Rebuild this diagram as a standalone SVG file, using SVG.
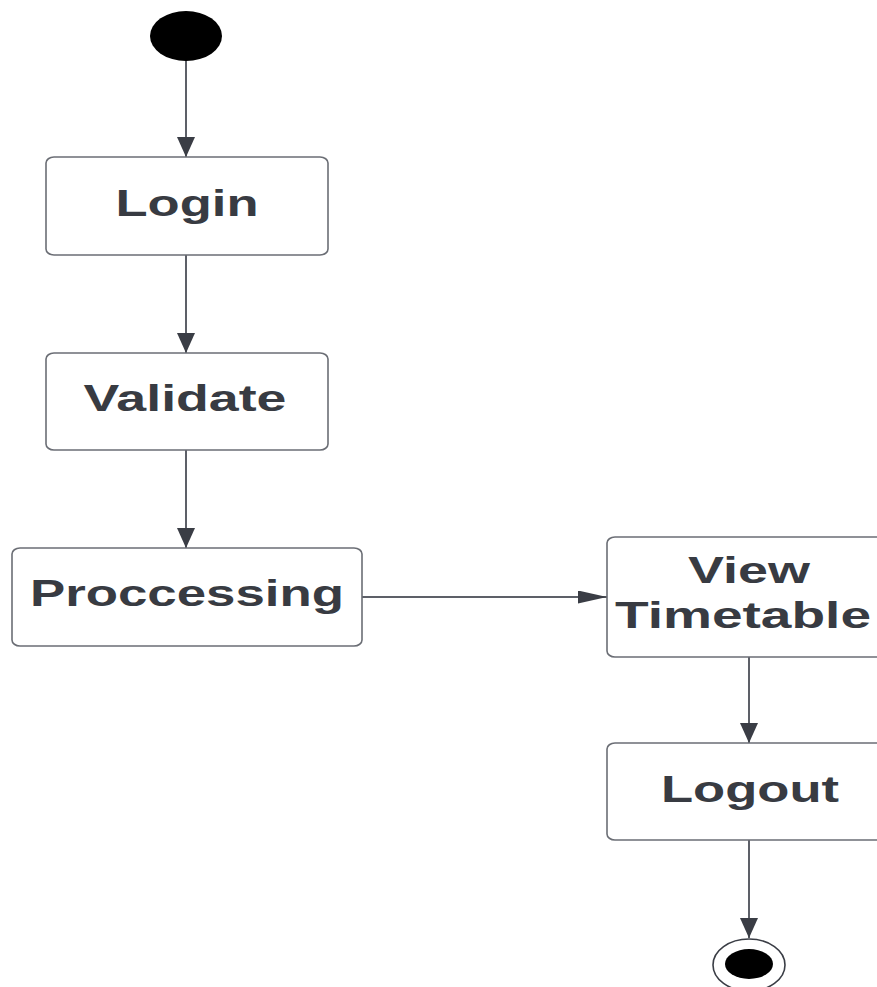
<svg xmlns="http://www.w3.org/2000/svg" width="877" height="987" viewBox="0 0 877 987">
<style>
.box{fill:#ffffff;stroke:#6b6e75;stroke-width:1.6}
.lbl{font-family:"Liberation Sans",Arial,sans-serif;font-weight:bold;font-size:37px;fill:#383b42;text-anchor:middle}
.edge{stroke:#5d6068;stroke-width:2;fill:none}
</style>
<defs>
<marker id="av" markerUnits="userSpaceOnUse" markerWidth="20" markerHeight="18" refX="20" refY="9" orient="auto">
<path d="M0,0 L20,9 L0,18 Z" fill="#3a3d45"/>
</marker>
<marker id="ah" markerUnits="userSpaceOnUse" markerWidth="29" markerHeight="13" refX="29" refY="6.5" orient="auto">
<path d="M0,0 L29,6.5 L0,13 Z" fill="#3a3d45"/>
</marker>
</defs>
<rect width="877" height="987" fill="#ffffff"/>
<g id="connectors">
<line class="edge" x1="186" y1="60" x2="186" y2="157" marker-end="url(#av)"/>
<line class="edge" x1="186" y1="255" x2="186" y2="353" marker-end="url(#av)"/>
<line class="edge" x1="186" y1="450" x2="186" y2="548" marker-end="url(#av)"/>
<line class="edge" x1="362" y1="597" x2="607" y2="597" marker-end="url(#ah)"/>
<line class="edge" x1="749" y1="657" x2="749" y2="743" marker-end="url(#av)"/>
<line class="edge" x1="749" y1="840" x2="749" y2="938" marker-end="url(#av)"/>
</g>
<g id="start">
<ellipse cx="186" cy="36" rx="36" ry="25" fill="#000000"/>
</g>
<g id="login">
<rect class="box" x="46" y="157" width="282" height="98" rx="8" ry="6"/>
<text class="lbl" x="187" y="216" textLength="143" lengthAdjust="spacingAndGlyphs">Login</text>
</g>
<g id="validate">
<rect class="box" x="46" y="353" width="282" height="97" rx="8" ry="6"/>
<text class="lbl" x="185" y="411" textLength="203" lengthAdjust="spacingAndGlyphs">Validate</text>
</g>
<g id="processing">
<rect class="box" x="12" y="548" width="350" height="98" rx="8" ry="6"/>
<text class="lbl" x="187" y="606" textLength="314" lengthAdjust="spacingAndGlyphs">Proccessing</text>
</g>
<g id="viewtimetable">
<rect class="box" x="607" y="537" width="290" height="120" rx="8" ry="6"/>
<text class="lbl" x="749" y="583" textLength="122" lengthAdjust="spacingAndGlyphs">View</text>
<text class="lbl" x="743" y="628" textLength="256" lengthAdjust="spacingAndGlyphs">Timetable</text>
</g>
<g id="logout">
<rect class="box" x="607" y="743" width="290" height="97" rx="8" ry="6"/>
<text class="lbl" x="750" y="802" textLength="178" lengthAdjust="spacingAndGlyphs">Logout</text>
</g>
<g id="end">
<ellipse cx="749" cy="965" rx="36" ry="26" fill="#ffffff" stroke="#3a3d45" stroke-width="1.6"/>
<ellipse cx="749" cy="964" rx="24" ry="15" fill="#000000"/>
</g>
</svg>
